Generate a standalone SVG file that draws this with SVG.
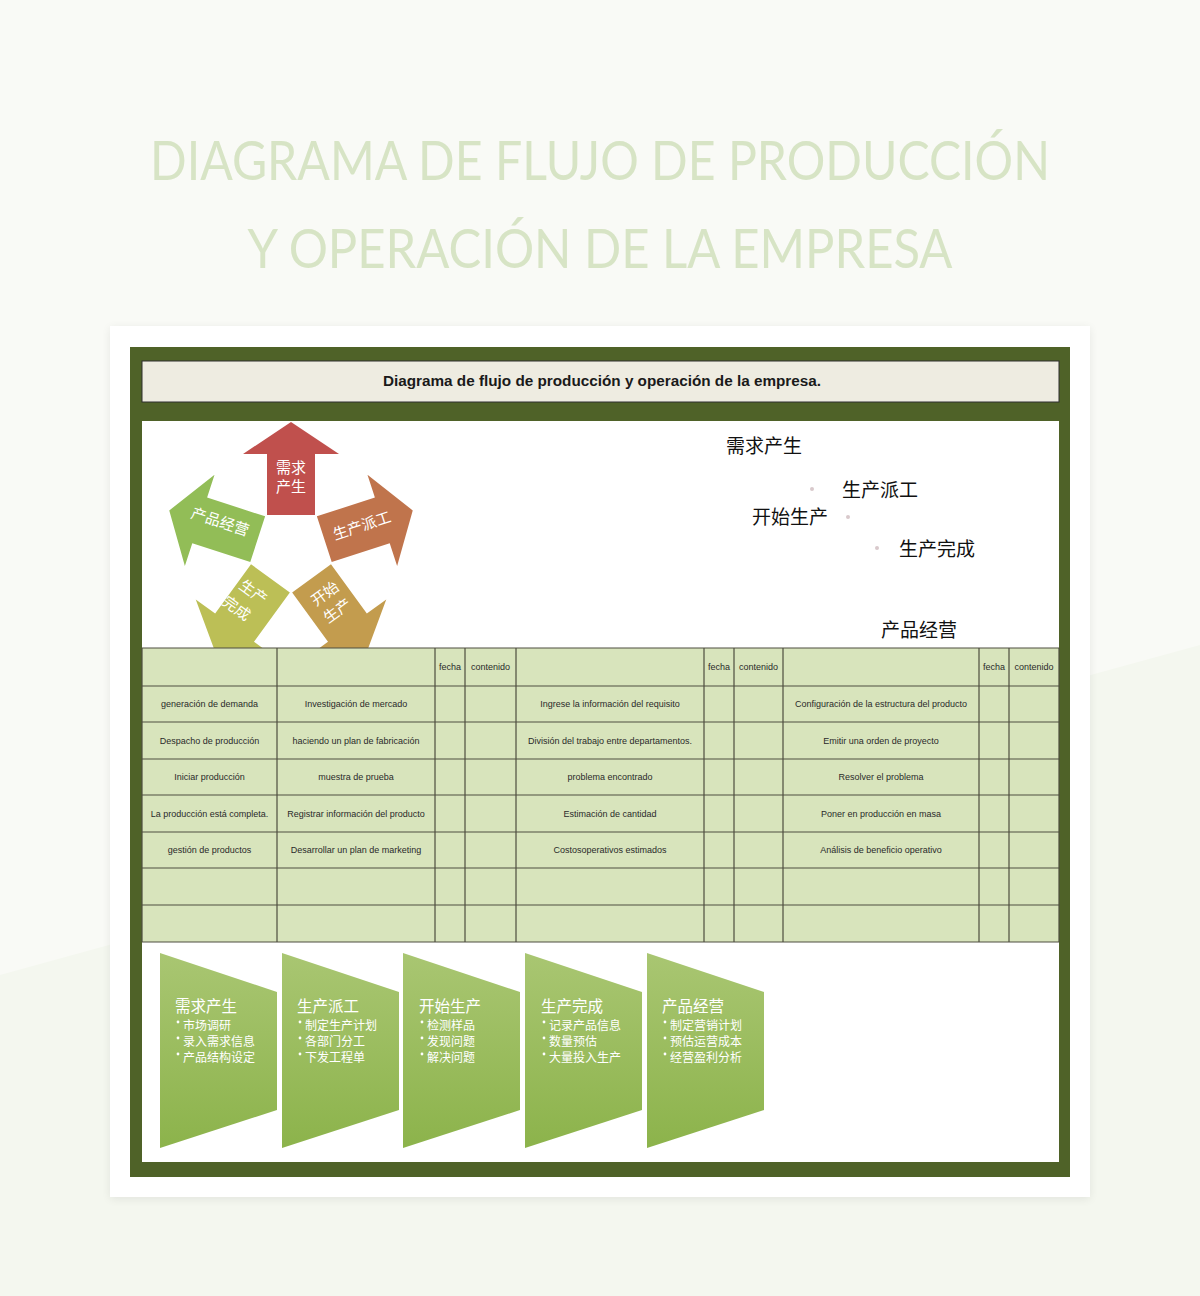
<svg xmlns="http://www.w3.org/2000/svg" xmlns:xlink="http://www.w3.org/1999/xlink" width="1200" height="1296" viewBox="0 0 1200 1296">
<style>
.title{font-family:"Lato","Open Sans",sans-serif;font-size:54px;fill:#d7e4c5;text-anchor:middle;}
.hdr{font-family:"Liberation Sans",Arial,sans-serif;font-weight:bold;font-size:14.5px;fill:#1a1a1a;text-anchor:middle;}
.cell{font-family:"Liberation Sans",Arial,sans-serif;font-size:9px;fill:#2a2a2a;text-anchor:middle;}
.alab{font-family:"Noto Sans CJK SC",sans-serif;font-size:15px;fill:#ffffff;text-anchor:middle;}
.rt{font-family:"Noto Sans CJK SC",sans-serif;font-size:19px;fill:#111111;}
.ct{font-family:"Noto Sans CJK SC",sans-serif;font-size:15.5px;fill:#ffffff;}
.cb{font-family:"Noto Sans CJK SC",sans-serif;font-size:12px;fill:#ffffff;}
.grid{stroke:#4e4e40;stroke-width:1.2;fill:none;}
.dot{fill:#d9c9cc;}
.bul{fill:#ffffff;}
</style>
<defs>
<linearGradient id="chev" x1="0" y1="0" x2="0" y2="1">
<stop offset="0" stop-color="#a9c672"/>
<stop offset="1" stop-color="#8cb34b"/>
</linearGradient>
<filter id="sh" x="-5%" y="-5%" width="110%" height="110%">
<feGaussianBlur in="SourceAlpha" stdDeviation="5"/>
<feOffset dy="2"/>
<feComponentTransfer><feFuncA type="linear" slope="0.08"/></feComponentTransfer>
<feMerge><feMergeNode/><feMergeNode in="SourceGraphic"/></feMerge>
</filter>
<polygon id="arr" points="-24,-35 -24,-96 -48,-96 0,-128 48,-96 24,-96 24,-35"/>
</defs>

<!-- page background -->
<rect x="0" y="0" width="1200" height="1296" fill="#f9faf6"/>
<polygon points="0,975 1200,645 1200,1296 0,1296" fill="#f4f7ef"/>

<!-- title -->
<text class="title" x="600" y="180" textLength="900" lengthAdjust="spacingAndGlyphs">DIAGRAMA DE FLUJO DE PRODUCCIÓN</text>
<text class="title" x="600" y="268" textLength="705" lengthAdjust="spacingAndGlyphs">Y OPERACIÓN DE LA EMPRESA</text>

<!-- card -->
<rect x="110" y="326" width="980" height="871" fill="#ffffff" filter="url(#sh)"/>
<rect x="130" y="347" width="940" height="830" fill="#4f6228"/>
<rect x="142" y="361" width="917" height="41" fill="#eeece1" stroke="#2e2e2e" stroke-width="1"/>
<text class="hdr" x="602" y="386" textLength="438" lengthAdjust="spacingAndGlyphs">Diagrama de flujo de producción y operación de la empresa.</text>
<rect x="142" y="421" width="917" height="741" fill="#ffffff"/>

<!-- pentagon arrows -->
<g id="arrows">
<g id="a-demanda">
<use xlink:href="#arr" href="#arr" transform="translate(291,550)" fill="#c0504d"/>
<text class="alab" x="291" y="473">需求</text>
<text class="alab" x="291" y="492">产生</text>
</g>
<g id="a-despacho">
<use xlink:href="#arr" href="#arr" transform="translate(291,550) rotate(72)" fill="#c0744c"/>
<text class="alab" transform="translate(362,526) rotate(-18)" x="0" y="5">生产派工</text>
</g>
<g id="a-inicio">
<use xlink:href="#arr" href="#arr" transform="translate(291,550) rotate(144)" fill="#c39c4e"/>
<g transform="translate(331,602) rotate(-36)">
<text class="alab" x="0" y="-5">开始</text>
<text class="alab" x="0" y="16">生产</text>
</g>
</g>
<g id="a-completa">
<use xlink:href="#arr" href="#arr" transform="translate(291,550) rotate(216)" fill="#bcbf56"/>
<g transform="translate(245,600) rotate(36)">
<text class="alab" x="2" y="-6">生产</text>
<text class="alab" x="-2" y="17">完成</text>
</g>
</g>
<g id="a-gestion">
<use xlink:href="#arr" href="#arr" transform="translate(291,550) rotate(288)" fill="#92bd57"/>
<text class="alab" transform="translate(220,522) rotate(18)" x="0" y="5">产品经营</text>
</g>
</g>

<!-- right labels -->
<g id="right-labels">
<text class="rt" x="726" y="453">需求产生</text>
<circle class="dot" cx="812" cy="489" r="2"/>
<text class="rt" x="842" y="497">生产派工</text>
<text class="rt" x="752" y="524">开始生产</text>
<circle class="dot" cx="848" cy="517" r="2"/>
<circle class="dot" cx="877" cy="548" r="2"/>
<text class="rt" x="899" y="556">生产完成</text>
<text class="rt" x="881" y="637">产品经营</text>
</g>

<!-- table -->
<g id="table">
<rect x="142" y="648" width="917" height="294" fill="#d8e4bc"/>
<path class="grid" d="M142,648H1059M142,686H1059M142,722H1059M142,759H1059M142,795H1059M142,832H1059M142,868H1059M142,905H1059M142,942H1059"/>
<path class="grid" d="M142,648V942M277,648V942M435,648V942M465,648V942M516,648V942M704,648V942M734,648V942M783,648V942M979,648V942M1009,648V942M1059,648V942"/>
<text class="cell" x="450" y="670">fecha</text>
<text class="cell" x="490.5" y="670">contenido</text>
<text class="cell" x="719" y="670">fecha</text>
<text class="cell" x="758.5" y="670">contenido</text>
<text class="cell" x="994" y="670">fecha</text>
<text class="cell" x="1034" y="670">contenido</text>

<text class="cell" x="209.5" y="707">generación de demanda</text>
<text class="cell" x="356" y="707">Investigación de mercado</text>
<text class="cell" x="610" y="707">Ingrese la información  del requisito</text>
<text class="cell" x="881" y="707">Configuración de la estructura  del producto</text>

<text class="cell" x="209.5" y="743.5">Despacho de producción</text>
<text class="cell" x="356" y="743.5">haciendo un plan de fabricación</text>
<text class="cell" x="610" y="743.5">División del trabajo entre departamentos.</text>
<text class="cell" x="881" y="743.5">Emitir  una orden de proyecto</text>

<text class="cell" x="209.5" y="780">Iniciar  producción</text>
<text class="cell" x="356" y="780">muestra de prueba</text>
<text class="cell" x="610" y="780">problema encontrado</text>
<text class="cell" x="881" y="780">Resolver el problema</text>

<text class="cell" x="209.5" y="816.5">La producción está completa.</text>
<text class="cell" x="356" y="816.5">Registrar información del producto</text>
<text class="cell" x="610" y="816.5">Estimación de cantidad</text>
<text class="cell" x="881" y="816.5">Poner en producción en masa</text>

<text class="cell" x="209.5" y="853">gestión de productos</text>
<text class="cell" x="356" y="853">Desarrollar un plan de marketing</text>
<text class="cell" x="610" y="853">Costosoperativos estimados</text>
<text class="cell" x="881" y="853">Análisis de beneficio operativo</text>
</g>

<!-- bottom chevrons -->
<g id="step1">
<polygon points="160,953 277,992 277,1110 160,1148" fill="url(#chev)"/>
<text class="ct" x="175" y="1012">需求产生</text>
<circle class="bul" cx="178" cy="1022" r="1.4"/><text class="cb" x="183" y="1030">市场调研</text>
<circle class="bul" cx="178" cy="1038" r="1.4"/><text class="cb" x="183" y="1046">录入需求信息</text>
<circle class="bul" cx="178" cy="1054" r="1.4"/><text class="cb" x="183" y="1062">产品结构设定</text>
</g>
<g id="step2">
<polygon points="282,953 399,992 399,1110 282,1148" fill="url(#chev)"/>
<text class="ct" x="297" y="1012">生产派工</text>
<circle class="bul" cx="300" cy="1022" r="1.4"/><text class="cb" x="305" y="1030">制定生产计划</text>
<circle class="bul" cx="300" cy="1038" r="1.4"/><text class="cb" x="305" y="1046">各部门分工</text>
<circle class="bul" cx="300" cy="1054" r="1.4"/><text class="cb" x="305" y="1062">下发工程单</text>
</g>
<g id="step3">
<polygon points="403,953 520,992 520,1110 403,1148" fill="url(#chev)"/>
<text class="ct" x="419" y="1012">开始生产</text>
<circle class="bul" cx="422" cy="1022" r="1.4"/><text class="cb" x="427" y="1030">检测样品</text>
<circle class="bul" cx="422" cy="1038" r="1.4"/><text class="cb" x="427" y="1046">发现问题</text>
<circle class="bul" cx="422" cy="1054" r="1.4"/><text class="cb" x="427" y="1062">解决问题</text>
</g>
<g id="step4">
<polygon points="525,953 642,992 642,1110 525,1148" fill="url(#chev)"/>
<text class="ct" x="541" y="1012">生产完成</text>
<circle class="bul" cx="544" cy="1022" r="1.4"/><text class="cb" x="549" y="1030">记录产品信息</text>
<circle class="bul" cx="544" cy="1038" r="1.4"/><text class="cb" x="549" y="1046">数量预估</text>
<circle class="bul" cx="544" cy="1054" r="1.4"/><text class="cb" x="549" y="1062">大量投入生产</text>
</g>
<g id="step5">
<polygon points="647,953 764,992 764,1110 647,1148" fill="url(#chev)"/>
<text class="ct" x="662" y="1012">产品经营</text>
<circle class="bul" cx="665" cy="1022" r="1.4"/><text class="cb" x="670" y="1030">制定营销计划</text>
<circle class="bul" cx="665" cy="1038" r="1.4"/><text class="cb" x="670" y="1046">预估运营成本</text>
<circle class="bul" cx="665" cy="1054" r="1.4"/><text class="cb" x="670" y="1062">经营盈利分析</text>
</g>
<g id="connectors"></g>
</svg>
